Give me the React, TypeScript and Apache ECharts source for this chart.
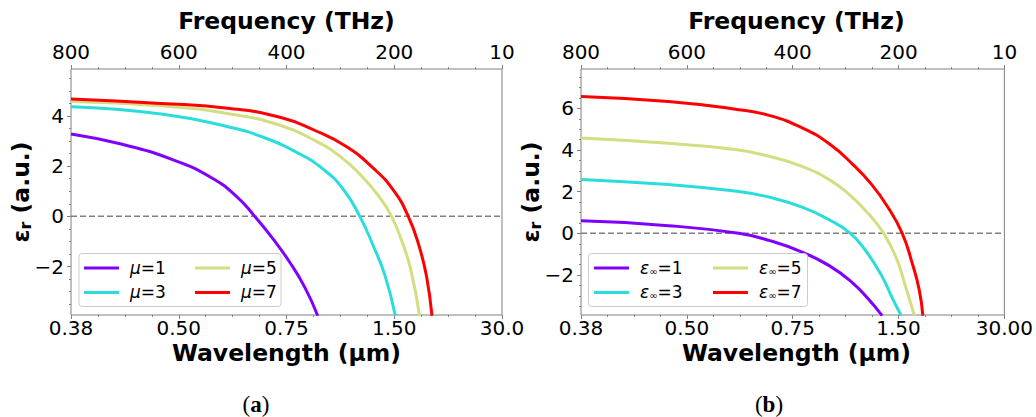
import React, { useEffect, useRef } from "react";
import * as echarts from "echarts";

const FONT = "DejaVu Sans";
const COLORS = ["#8000ff", "#2adddd", "#d4dd80", "#ff0000"];
const AXIS_GRAY = "#808080";

// x axis: frequency in THz (linear, reversed), tick labels
const freqTicks = [800, 600, 400, 200, 0];
const topTickLabels = ["800", "600", "400", "200", "10"];
const bottomTickLabelsA = ["0.38", "0.50", "0.75", "1.50", "30.0"];
const bottomTickLabelsB = ["0.38", "0.50", "0.75", "1.50", "30.00"];

// y axes
const yTicksA = [-2, 0, 2, 4];
const yTicksB = [-2, 0, 2, 4, 6];
const yRangeA = [-3.93, 5.87];
const yRangeB = [-3.92, 7.89];

// panel (a): mu series
const namesA = ["μ=1", "μ=3", "μ=5", "μ=7"];
const aMu1F = [800, 707, 614, 540, 491, 459, 425, 394, 366, 342];
const aMu1E = [3.28, 2.88, 2.28, 1.55, 0.76, 0, -0.9, -1.83, -2.83, -3.96];
const aMu3F = [800, 633, 505, 443, 381, 332, 295, 264, 239, 217, 198];
const aMu3E = [4.37, 4.08, 3.55, 3.15, 2.55, 1.88, 1.09, 0, -1.17, -2.37, -3.96];
const aMu5F = [800, 633, 505, 412, 350, 301, 258, 227, 205, 184, 169, 153];
const aMu5E = [4.58, 4.41, 4.08, 3.63, 3.05, 2.4, 1.55, 0.75, 0, -1.1, -2.15, -3.96];
const aMu7F = [800, 633, 505, 412, 350, 289, 239, 202, 174, 153, 140, 130];
const aMu7E = [4.67, 4.5, 4.3, 3.95, 3.45, 2.78, 1.92, 1.05, 0, -1.25, -2.4, -3.96];

// panel (b): eps_inf series
const namesB = ["ε∞=1", "ε∞=3", "ε∞=5", "ε∞=7"];
const bE1F = [800, 635, 502, 443, 381, 331, 288, 257, 231];
const bE1E = [0.6, 0.37, 0, -0.35, -0.91, -1.55, -2.35, -3.15, -3.95];
const bE3F = [800, 635, 505, 443, 381, 331, 291, 263, 232, 211, 195];
const bE3E = [2.59, 2.34, 2.02, 1.73, 1.25, 0.65, 0, -0.8, -2.03, -3.15, -3.95];
const bE5F = [800, 635, 505, 443, 381, 331, 294, 257, 228, 204, 188, 170];
const bE5E = [4.58, 4.32, 4.01, 3.69, 3.2, 2.58, 1.88, 0.95, 0, -1.2, -2.45, -3.95];
const bE7F = [800, 635, 505, 443, 381, 331, 288, 251, 220, 193, 174, 161, 154];
const bE7E = [6.57, 6.33, 5.95, 5.65, 5.05, 4.3, 3.35, 2.35, 1.25, 0, -1.45, -2.7, -3.95];

const zeroLineF = [800, 0];
const zeroLineE = [0, 0];

const zip = (f: number[], e: number[]) => f.map((v, i) => [v, e[i]]);

const fmtNum = (v: number) => (v < 0 ? "\u2212" + Math.abs(v) : String(v));

function minorTicks(range: number[], majors: number[]) {
  const out: number[] = [];
  for (let v = Math.ceil(range[0] * 2) / 2; v <= range[1]; v += 0.5) {
    if (!majors.includes(v)) out.push(v);
  }
  return out;
}

const GRID_TOP = 69;
const GRID_H = 246;
const GRID_W = 431;
const GRID_LEFTS = [71, 581];

export default function App() {
  const ref = useRef<HTMLDivElement>(null);

  useEffect(() => {
    if (!ref.current) return;
    const chart = echarts.init(ref.current, undefined, { renderer: "svg" });

    const tickLabelStyle = { fontFamily: FONT, fontSize: 20, color: "#000", lineHeight: 20 };

    const makeX = (gridIndex: number, position: "top" | "bottom", labels: string[]) => ({
      type: "value",
      gridIndex,
      position,
      min: 0,
      max: 800,
      interval: 200,
      inverse: true,
      axisLine: { show: false, onZero: false },
      axisTick: { show: true, inside: false, length: 4, lineStyle: { color: AXIS_GRAY, width: 1 } },
      minorTick: { show: true, splitNumber: 4, length: 2, lineStyle: { color: AXIS_GRAY, width: 1 } },
      splitLine: { show: false },
      axisLabel: {
        ...tickLabelStyle,
        margin: position === "top" ? 7 : 3,
        showMinLabel: true,
        showMaxLabel: true,
        formatter: (v: number) => {
          const i = freqTicks.indexOf(v);
          return i >= 0 ? labels[i] : "";
        },
      },
    });

    const makeY = (gridIndex: number, range: number[], majors: number[]) => [
      {
        type: "value",
        gridIndex,
        position: "left",
        min: range[0],
        max: range[1],
        axisLine: { show: false, onZero: false },
        axisTick: { show: true, inside: false, length: 4, customValues: majors, lineStyle: { color: AXIS_GRAY } },
        splitLine: { show: false },
        axisLabel: { ...tickLabelStyle, margin: 7, customValues: majors, formatter: (v: number) => fmtNum(v) },
      },
      {
        type: "value",
        gridIndex,
        position: "left",
        min: range[0],
        max: range[1],
        axisLine: { show: false, onZero: false },
        axisTick: { show: true, inside: false, length: 2, customValues: minorTicks(range, majors), lineStyle: { color: AXIS_GRAY } },
        splitLine: { show: false },
        axisLabel: { show: false },
      },
    ];

    const lineSeries = (name: string, data: number[][], color: string, xi: number, yi: number) => ({
      type: "line",
      name,
      data,
      xAxisIndex: xi,
      yAxisIndex: yi,
      symbol: "none",
      smooth: 0.5,
      clip: true,
      lineStyle: { color, width: 3 },
      itemStyle: { color },
      z: 3,
    });

    const zeroSeries = (xi: number, yi: number) => ({
      type: "line",
      name: "zero" + xi,
      data: zip(zeroLineF, zeroLineE),
      xAxisIndex: xi,
      yAxisIndex: yi,
      symbol: "none",
      silent: true,
      lineStyle: { color: AXIS_GRAY, width: 1.5, type: [6, 3] },
      z: 2,
    });

    const muRich = {
      i: { fontFamily: FONT, fontStyle: "italic", fontSize: 17, lineHeight: 16 },
      n: { fontFamily: FONT, fontSize: 17, lineHeight: 16 },
    };
    const epsRich = {
      i: { fontFamily: FONT, fontStyle: "italic", fontSize: 17, lineHeight: 16 },
      s: { fontFamily: FONT, fontSize: 10, lineHeight: 16, padding: [7, 0, 0, 0] },
      n: { fontFamily: FONT, fontSize: 17, lineHeight: 16 },
    };

    const muFmt = (name: string) => `{i|μ}{n|${name.slice(1)}}`;
    const epsFmt = (name: string) => `{i|ε}{s|∞}{n|${name.slice(2)}}`;

    const makeLegend = (data: string[], left: number, fmt: (n: string) => string, rich: any) => ({
      data,
      left,
      top: 259.5,
      orient: "vertical",
      icon: "rect",
      itemWidth: 35,
      itemHeight: 3,
      itemGap: 7.4,
      padding: 0,
      selectedMode: false,
      z: 20,
      formatter: fmt,
      textStyle: { fontFamily: FONT, fontSize: 17, color: "#000", padding: [0, 0, 0, 6], rich },
    });

    const titleText = (x: number, y: number, text: string) => ({
      type: "text",
      x,
      y,
      z: 30,
      style: {
        text,
        fontFamily: FONT,
        fontWeight: "bold",
        fontSize: 23.5,
        lineHeight: 24,
        fill: "#000",
        align: "center",
        verticalAlign: "middle",
      },
    });

    const yTitle = (x: number) => ({
      type: "text",
      x,
      y: 192,
      rotation: Math.PI / 2,
      z: 30,
      style: {
        text: "{e|ε}{r|r}{e| (a.u.)}",
        align: "center",
        verticalAlign: "middle",
        fill: "#000",
        rich: {
          e: { fontFamily: FONT, fontWeight: "bold", fontSize: 23.5, lineHeight: 28 },
          r: { fontFamily: FONT, fontWeight: "bold", fontSize: 16, lineHeight: 28, padding: [8, 0, 0, 0] },
        },
      },
    });

    const caption = (x: number, letter: string) => ({
      type: "text",
      x,
      y: 404,
      z: 30,
      style: {
        text: `{p|(}{b|${letter}}{p|)}`,
        align: "center",
        verticalAlign: "middle",
        fill: "#000",
        rich: {
          p: { fontFamily: "Liberation Serif", fontSize: 23 },
          b: { fontFamily: "Liberation Serif", fontSize: 23, fontWeight: "bold" },
        },
      },
    });

    const legendFrame = (x: number, w: number) => ({
      type: "rect",
      z: 15,
      shape: { x, y: 253.5, width: w, height: 53, r: 3 },
      style: { fill: "rgba(255,255,255,0.85)", stroke: "#cccccc", lineWidth: 1 },
    });

    const option: any = {
      animation: false,
      backgroundColor: "#fff",
      grid: GRID_LEFTS.map((left) => ({
        left,
        top: GRID_TOP,
        width: GRID_W,
        height: GRID_H,
        show: true,
        borderColor: AXIS_GRAY,
        borderWidth: 1,
        backgroundColor: "transparent",
        containLabel: false,
      })),
      xAxis: [
        makeX(0, "bottom", bottomTickLabelsA),
        makeX(0, "top", topTickLabels),
        makeX(1, "bottom", bottomTickLabelsB),
        makeX(1, "top", topTickLabels),
      ],
      yAxis: [...makeY(0, yRangeA, yTicksA), ...makeY(1, yRangeB, yTicksB)],
      legend: [
        makeLegend([namesA[0], namesA[1]], 84, muFmt, muRich),
        makeLegend([namesA[2], namesA[3]], 195, muFmt, muRich),
        makeLegend([namesB[0], namesB[1]], 594, epsFmt, epsRich),
        makeLegend([namesB[2], namesB[3]], 713, epsFmt, epsRich),
      ],
      graphic: [
        titleText(286.5, 21, "Frequency (THz)"),
        titleText(796.5, 21, "Frequency (THz)"),
        titleText(286.5, 353, "Wavelength (µm)"),
        titleText(796.5, 353, "Wavelength (µm)"),
        yTitle(21),
        yTitle(531),
        caption(256, "a"),
        caption(769, "b"),
        legendFrame(79, 202),
        legendFrame(588.5, 219),
      ],
      series: [
        zeroSeries(0, 0),
        lineSeries(namesA[0], zip(aMu1F, aMu1E), COLORS[0], 0, 0),
        lineSeries(namesA[1], zip(aMu3F, aMu3E), COLORS[1], 0, 0),
        lineSeries(namesA[2], zip(aMu5F, aMu5E), COLORS[2], 0, 0),
        lineSeries(namesA[3], zip(aMu7F, aMu7E), COLORS[3], 0, 0),
        zeroSeries(2, 2),
        lineSeries(namesB[0], zip(bE1F, bE1E), COLORS[0], 2, 2),
        lineSeries(namesB[1], zip(bE3F, bE3E), COLORS[1], 2, 2),
        lineSeries(namesB[2], zip(bE5F, bE5E), COLORS[2], 2, 2),
        lineSeries(namesB[3], zip(bE7F, bE7E), COLORS[3], 2, 2),
      ],
    };

    chart.setOption(option);
    return () => chart.dispose();
  }, []);

  return (
    <div
      ref={ref}
      style={{ position: "fixed", left: 0, top: 0, width: 1036, height: 417, background: "#fff" }}
    />
  );
}
